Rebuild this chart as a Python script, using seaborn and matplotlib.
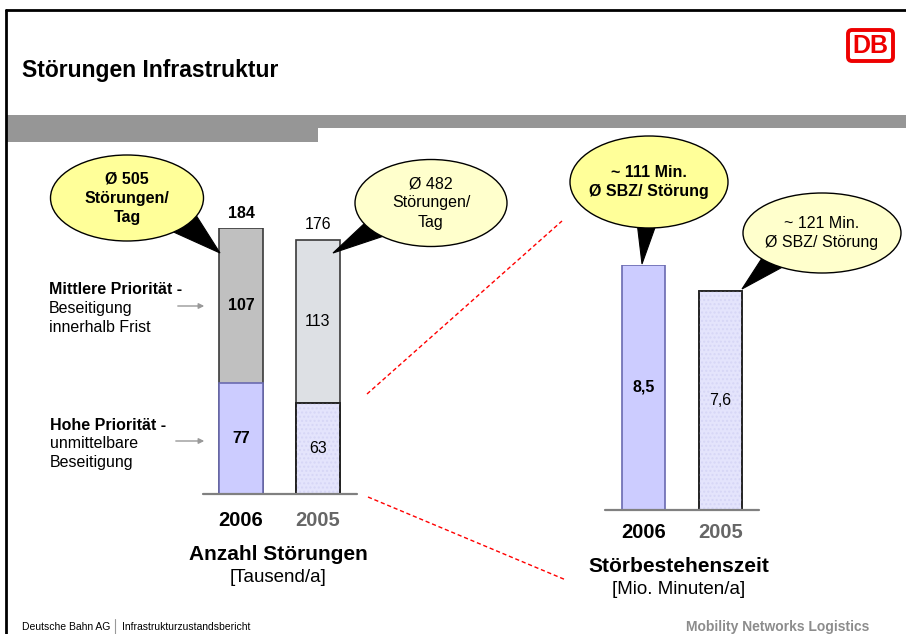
import matplotlib
matplotlib.use("Agg")
import matplotlib.pyplot as plt
import seaborn as sns
from matplotlib.patches import Ellipse, Polygon, Rectangle, FancyBboxPatch

# Daten
years = ["2006", "2005"]
hohe = [77, 63]            # Hohe Priorität
mittlere = [107, 113]      # Mittlere Priorität
gesamt = [184, 176]        # Anzahl Störungen [Tausend/a]
sbz = [8.5, 7.6]           # Störbestehenszeit [Mio. Minuten/a]
sbz_labels = ["8,5", "7,6"]
tag_callouts = ["Ø 505\nStörungen/\nTag", "Ø 482\nStörungen/\nTag"]
min_callouts = ["~ 111 Min.\nØ SBZ/ Störung", "~ 121 Min.\nØ SBZ/ Störung"]

W, H = 906, 634

sns.set_theme(style="white")
plt.rcParams["font.family"] = ["Liberation Sans", "DejaVu Sans"]
plt.rcParams["text.color"] = "black"

fig = plt.figure(figsize=(W / 100, H / 100), dpi=100)


def px_axes(x0, y0, x1, y1):
    # Pixelbox (Ursprung oben links) -> Achse
    return fig.add_axes([x0 / W, 1 - y1 / H, (x1 - x0) / W, (y1 - y0) / H])


def dotted(ax, p, ec):
    # feines Punktmuster + Rand neu zeichnen
    z = p.get_zorder()
    ax.add_patch(Rectangle((p.get_x(), p.get_y()), p.get_width(), p.get_height(),
                           fill=False, hatch="....", edgecolor="#D6D6F6", lw=0, zorder=z + 0.1))
    ax.add_patch(Rectangle((p.get_x(), p.get_y()), p.get_width(), p.get_height(),
                           fill=False, edgecolor=ec, lw=1.2, zorder=z + 0.2))


year_colors = ["black", "#666666"]
weights = ["bold", "normal"]

# --- linkes Diagramm: Anzahl Störungen ---
axl = px_axes(202.5, 228, 356.5, 494)
sns.barplot(x=years, y=gesamt, hue=years, order=years, hue_order=years,
            palette=["#C0C0C0", "#DDE0E4"], saturation=1, width=0.56,
            legend=False, ax=axl, linewidth=1.2)
sns.barplot(x=years, y=hohe, hue=years, order=years, hue_order=years,
            palette=["#CCCCFF", "#E4E4FC"], saturation=1, width=0.56,
            legend=False, ax=axl, linewidth=1.2)
for c, ec in zip(axl.containers, ["#3A3A3A", "#3A3A3A", "#6A6AB0", "#222222"]):
    for p in c:
        p.set_edgecolor(ec)
dotted(axl, axl.containers[3][0], "#222222")

axl.set_xlim(-0.5, 1.5)
axl.set_ylim(0, 184)
for i in range(2):
    axl.text(i, gesamt[i] + 5, str(gesamt[i]), ha="center", va="bottom",
             fontsize=11.5, fontweight=weights[i])
    axl.text(i, hohe[i] + mittlere[i] / 2, str(mittlere[i]), ha="center", va="center",
             fontsize=11.5, fontweight=weights[i], zorder=10)
    axl.text(i, hohe[i] / 2, str(hohe[i]), ha="center", va="center",
             fontsize=11.5, fontweight=weights[i], zorder=10)
axl.axhline(0, color="#808080", lw=1.6, clip_on=False)

# --- rechtes Diagramm: Störbestehenszeit ---
axr = px_axes(605, 265, 759, 510)
sns.barplot(x=years, y=sbz, hue=years, order=years, hue_order=years,
            palette=["#CCCCFF", "#E4E4FC"], saturation=1, width=0.56,
            legend=False, ax=axr, linewidth=1.2)
for c, ec in zip(axr.containers, ["#6A6AB0", "#222222"]):
    for p in c:
        p.set_edgecolor(ec)
dotted(axr, axr.containers[1][0], "#222222")
axr.set_xlim(-0.5, 1.5)
axr.set_ylim(0, 8.5)
for i in range(2):
    axr.text(i, sbz[i] / 2, sbz_labels[i], ha="center", va="center",
             fontsize=11.5, fontweight=weights[i], zorder=10)
axr.axhline(0, color="#808080", lw=1.6, clip_on=False)

for ax, pad in [(axl, 12.5), (axr, 9)]:
    sns.despine(ax=ax, left=True, bottom=True)
    ax.set_yticks([])
    ax.set_ylabel("")
    ax.set_xlabel("")
    ax.set_xticks(range(2), years)
    ax.tick_params(axis="x", length=0, pad=pad)
    ax.patch.set_visible(False)
    for lab, col in zip(ax.get_xticklabels(), year_colors):
        lab.set_color(col)
        lab.set_fontweight("bold")
        lab.set_fontsize(14.5)

# --- Folienrahmen und Beschriftungen ---
ov = fig.add_axes([0, 0, 1, 1], zorder=5)
ov.set_xlim(0, W)
ov.set_ylim(H, 0)
ov.axis("off")
ov.patch.set_visible(False)

ov.plot([6, 6], [10, H], color="black", lw=2)
ov.plot([6, W], [10, 10], color="black", lw=2)
ov.add_patch(Rectangle((7, 115), W - 7, 13, color="#969696", lw=0))
ov.add_patch(Rectangle((7, 127), 311, 15, color="#969696", lw=0))

ov.text(22, 70, "Störungen Infrastruktur", fontsize=16.5, fontweight="bold", va="center")

# DB Logo
ov.add_patch(FancyBboxPatch((848, 30), 45, 31, boxstyle="round,pad=0,rounding_size=4",
                            facecolor="white", edgecolor="#EE0000", lw=2.8))
ov.text(870.5, 46, "DB", color="#EE0000", fontsize=18, fontweight="bold",
        ha="center", va="center", family=["Liberation Sans Narrow", "Liberation Sans"])

# rote Hilfslinien
ov.plot([367, 562], [394, 221], color="red", lw=1, dashes=(3, 2))
ov.plot([368, 566], [497, 580], color="red", lw=1, dashes=(3, 2))

# Sprechblasen
bubbles = [
    ((127, 198), 153, 86, "#FFFF99", [(158, 225), (194, 212), (220, 253)], tag_callouts[0], "bold"),
    ((431, 203), 152, 87, "#FFFFCC", [(366, 222), (384, 236), (333, 253)], tag_callouts[1], "normal"),
    ((649, 182), 158, 92, "#FFFF99", [(637, 222), (657, 222), (642, 264)], min_callouts[0], "bold"),
    ((822, 233), 158, 80, "#FFFFCC", [(764, 255), (790, 263), (742, 289)], min_callouts[1], "normal"),
]
for (cx, cy), w, h, fc, tail, txt, fw in bubbles:
    ov.add_patch(Polygon(tail, closed=True, facecolor="black", edgecolor="black", lw=0.8))
    ov.add_patch(Ellipse((cx, cy), w, h, facecolor=fc, edgecolor="black", lw=1))
    ov.text(cx, cy, txt, ha="center", va="center", fontsize=11.5, fontweight=fw,
            linespacing=1.35)

# Prioritäten-Beschriftung
ov.text(49, 289, "Mittlere Priorität -", fontsize=11.5, fontweight="bold", va="center")
ov.text(49, 308, "Beseitigung", fontsize=11.5, va="center")
ov.text(49, 327, "innerhalb Frist", fontsize=11.5, va="center")
ov.text(50, 425, "Hohe Priorität -", fontsize=11.5, fontweight="bold", va="center")
ov.text(50, 444, "unmittelbare", fontsize=11.5, va="center")
ov.text(50, 463, "Beseitigung", fontsize=11.5, va="center")
for y, x0 in [(306, 175), (441, 173)]:
    ov.annotate("", xy=(207, y), xytext=(x0, y),
                arrowprops=dict(arrowstyle="-|>", color="#999999", lw=1, mutation_scale=8))

ov.text(278, 555, "Anzahl Störungen", fontsize=15, fontweight="bold", ha="center", va="center")
ov.text(278, 578, "[Tausend/a]", fontsize=13.5, ha="center", va="center")
ov.text(679, 566, "Störbestehenszeit", fontsize=15, fontweight="bold", ha="center", va="center")
ov.text(679, 589, "[Mio. Minuten/a]", fontsize=13.5, ha="center", va="center")

# Fußzeile
ov.text(22, 627, "Deutsche Bahn AG", fontsize=7.5, va="center")
ov.plot([115, 115], [619, 634], color="#999999", lw=0.8)
ov.text(122, 627, "Infrastrukturzustandsbericht", fontsize=7.5, va="center")
ov.text(869, 627, "Mobility Networks Logistics", fontsize=10, fontweight="bold",
        color="#8C8C8C", ha="right", va="center")

fig.savefig("out.png", dpi=100)
